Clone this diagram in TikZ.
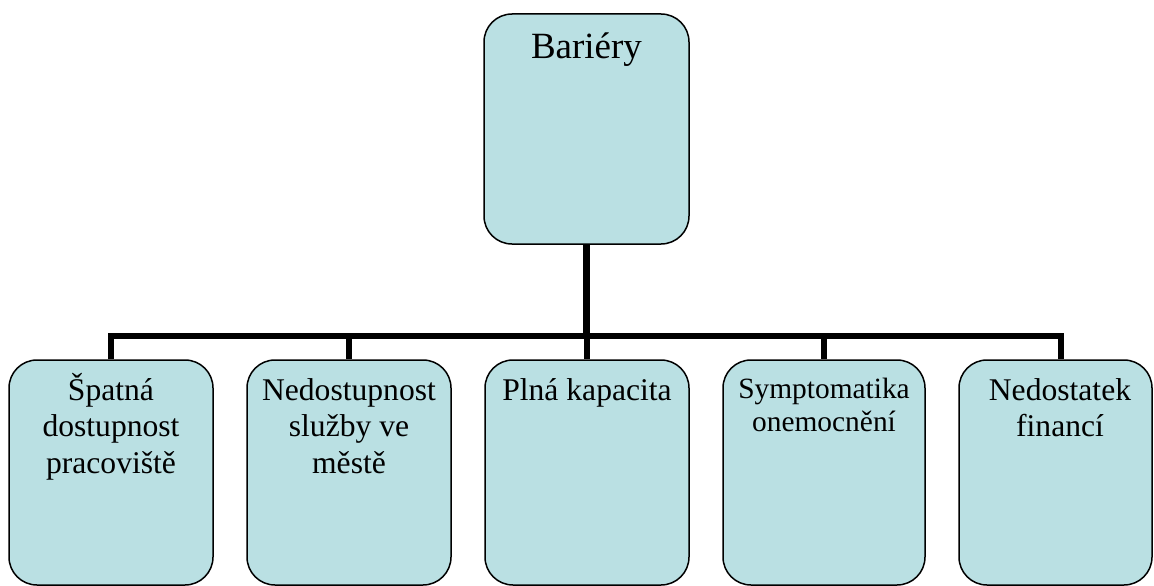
\documentclass[tikz,border=0pt]{standalone}
\usepackage{fontspec}
\setmainfont{Liberation Serif}
\definecolor{boxfill}{RGB}{186,224,227}
\begin{document}
\begin{tikzpicture}[x=1pt, y=-1pt,
  box/.style={draw=black, line width=1.5pt, fill=boxfill, rounded corners=28pt, inner sep=0pt},
  link/.style={draw=black, line width=6.5pt},
  lbl/.style={align=center, inner sep=0pt, anchor=base, font=\fontsize{31.6}{36.5}\selectfont},
  lblsmall/.style={lbl, font=\fontsize{29.4}{33}\selectfont}]
\useasboundingbox (0,0) rectangle (1154,586);

% root box
\node[box, minimum width=205pt, minimum height=230pt] (root) at (586.5,129) {};
\node[lbl, font=\fontsize{37}{43}\selectfont] (troot) at (586.5,59) {Bariéry};

% child boxes
\node[box, minimum width=204pt, minimum height=225pt] (b1) at (111,472.5) {};
\node[box, minimum width=204pt, minimum height=225pt] (b2) at (349,472.5) {};
\node[box, minimum width=204pt, minimum height=225pt] (b3) at (587,472.5) {};
\node[box, minimum width=202pt, minimum height=225pt] (b4) at (824,472.5) {};
\node[box, minimum width=193pt, minimum height=225pt] (b5) at (1055.5,472.5) {};

% labels: the base anchor sits on the last line's baseline
\node[lbl] (t1) at (111,473) {Špatná\\dostupnost\\pracoviště};
\node[lbl] (t2) at (349,473) {Nedostupnost\\služby ve\\městě};
\node[lbl] (t3) at (587,400) {Plná kapacita};
\node[lblsmall] (t4) at (824,431) {Symptomatika\\onemocnění};
\node[lbl] (t5) at (1060,436.5) {Nedostatek\\financí};

% connectors
\coordinate (bus) at (0,336);
\coordinate (d5) at ([xshift=5.5pt]b5.north);
\draw[link] (root.south) -- (root.south |- bus);
\draw[link] (b1.north) -- (b1.north |- bus) -- (d5 |- bus) -- (d5);
\draw[link] (b2.north |- bus) -- (b2.north);
\draw[link] (b3.north |- bus) -- (b3.north);
\draw[link] (b4.north |- bus) -- (b4.north);
\end{tikzpicture}
\end{document}
